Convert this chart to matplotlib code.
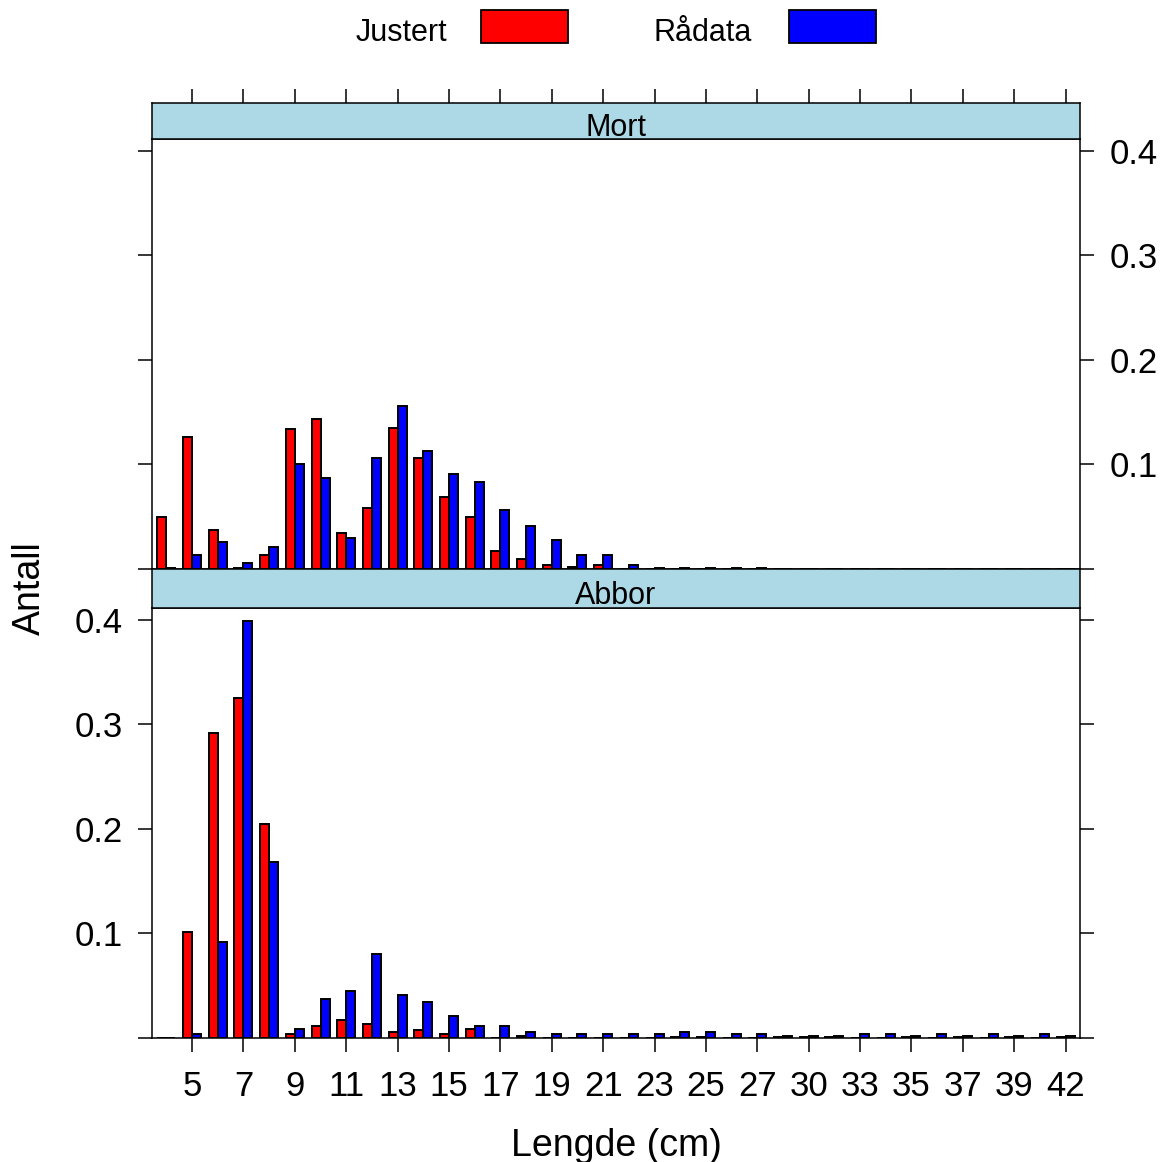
import matplotlib
matplotlib.use("Agg")
import matplotlib.pyplot as plt
from matplotlib.patches import Rectangle
import numpy as np

plt.rcParams['font.family'] = ['Liberation Sans', 'DejaVu Sans']

# length classes (cm)
lengde = [4, 5, 6, 7, 8, 9, 10, 11, 12, 13, 14, 15, 16, 17, 18, 19, 20, 21,
          22, 23, 24, 25, 26, 27, 28, 30, 31, 33, 34, 35, 36, 37, 38, 39, 40, 42]

mort_justert = [0.050, 0.126, 0.037, 0.0005, 0.013, 0.134, 0.143, 0.034, 0.058,
                0.135, 0.106, 0.069, 0.050, 0.017, 0.010, 0.004, 0.002, 0.004,
                0, 0, 0, 0, 0, 0, 0, 0, 0, 0, 0, 0, 0, 0, 0, 0, 0, 0]
mort_raadata = [0.001, 0.013, 0.026, 0.006, 0.021, 0.100, 0.087, 0.030, 0.106,
                0.156, 0.113, 0.091, 0.083, 0.056, 0.041, 0.028, 0.013, 0.013,
                0.004, 0.0005, 0.0005, 0.0005, 0.0005, 0.0005, 0, 0, 0, 0, 0,
                0, 0, 0, 0, 0, 0, 0]

abbor_justert = [0, 0.1015, 0.292, 0.325, 0.205, 0.004, 0.011, 0.017, 0.013,
                 0.006, 0.008, 0.004, 0.009, 0, 0.002, 0, 0, 0, 0, 0, 0.001,
                 0.001, 0, 0, 0.001, 0.001, 0.001, 0, 0, 0.001, 0, 0.001, 0,
                 0.001, 0, 0.001]
abbor_raadata = [0, 0.0035, 0.092, 0.399, 0.168, 0.009, 0.037, 0.045, 0.080,
                 0.041, 0.034, 0.021, 0.011, 0.011, 0.006, 0.004, 0.004, 0.004,
                 0.004, 0.004, 0.006, 0.006, 0.004, 0.004, 0.002, 0.002, 0.002,
                 0.004, 0.004, 0.002, 0.004, 0.002, 0.004, 0.002, 0.004, 0.002]

y_ticks = [0, 0.1, 0.2, 0.3, 0.4]
y_labels = ['', '0.1', '0.2', '0.3', '0.4']

W, H = 1167, 1162
TICK_LEN = 10
LW = 1.1


def box(x0, y0, x1, y1):
    # pixel box (top-left origin) -> figure fraction
    return [x0 / W, 1 - y1 / H, (x1 - x0) / W, (y1 - y0) / H]


def draw_bars(ax, red, blue):
    idx = np.arange(len(lengde))
    ax.bar(idx - 0.175, red, width=0.35, color='#FF0000', edgecolor='black',
           linewidth=1.4, zorder=2)
    ax.bar(idx + 0.175, blue, width=0.35, color='#0000FF', edgecolor='black',
           linewidth=1.4, zorder=2)
    ax.set_xlim(-0.56, len(lengde) - 0.44)
    ax.set_ylim(0, 0.411)
    for s in ax.spines.values():
        s.set_linewidth(LW)


def strip(fig, rect, label, top_ticks=False):
    sa = fig.add_axes(rect)
    sa.set_facecolor('#ADD8E6')
    sa.set_xlim(-0.56, len(lengde) - 0.44)
    sa.set_ylim(0, 1)
    sa.set_yticks([])
    for s in sa.spines.values():
        s.set_linewidth(LW)
    if top_ticks:
        sa.xaxis.tick_top()
        sa.set_xticks(np.arange(1, len(lengde), 2))
        sa.tick_params(axis='x', direction='out', length=TICK_LEN, width=LW,
                       labeltop=False)
    else:
        sa.set_xticks([])
    sa.text(0.5, 0.3, label, transform=sa.transAxes, ha='center',
            va='center', fontsize=22)
    return sa


fig = plt.figure(figsize=(W / 100, H / 100), dpi=100)

# Mort panel (top)
ax1 = fig.add_axes(box(152, 139, 1080, 569))
draw_bars(ax1, mort_justert, mort_raadata)
ax1.set_xticks([])
ax1.set_yticks(y_ticks)
ax1.set_yticklabels(y_labels)
ax1.tick_params(axis='y', direction='out', length=TICK_LEN, width=LW,
                left=True, right=True, labelleft=False, labelright=True,
                labelsize=25, pad=11)
strip(fig, box(152, 103, 1080, 139), 'Mort', top_ticks=True)

# Abbor panel (bottom)
ax2 = fig.add_axes(box(152, 608, 1080, 1038))
draw_bars(ax2, abbor_justert, abbor_raadata)
ticks = np.arange(1, len(lengde), 2)
ax2.set_xticks(ticks)
ax2.set_xticklabels([str(lengde[i]) for i in ticks])
ax2.tick_params(axis='x', direction='out', length=TICK_LEN, width=LW,
                labelsize=25, pad=13)
ax2.set_yticks(y_ticks)
ax2.set_yticklabels(y_labels)
ax2.tick_params(axis='y', direction='out', length=TICK_LEN, width=LW,
                left=True, right=True, labelleft=True, labelright=False,
                labelsize=25, pad=11)
strip(fig, box(152, 569, 1080, 608), 'Abbor')

# axis labels
fig.text(616 / W, 1 - 1146 / H, 'Lengde (cm)', ha='center', va='center',
         fontsize=27)
fig.text(30 / W, 1 - 588 / H, 'Antall', ha='center', va='center',
         rotation=90, fontsize=27)

# legend on top
fig.text(447 / W, 1 - 33 / H, 'Justert', ha='right', va='center', fontsize=22)
fig.patches.append(Rectangle((481 / W, 1 - 43 / H), 87 / W, 33 / H,
                             transform=fig.transFigure, facecolor='#FF0000',
                             edgecolor='black', linewidth=1.3))
fig.text(752 / W, 1 - 33 / H, 'Rådata', ha='right', va='center', fontsize=22)
fig.patches.append(Rectangle((789 / W, 1 - 43 / H), 87 / W, 33 / H,
                             transform=fig.transFigure, facecolor='#0000FF',
                             edgecolor='black', linewidth=1.3))

fig.savefig('out.png', dpi=100)
